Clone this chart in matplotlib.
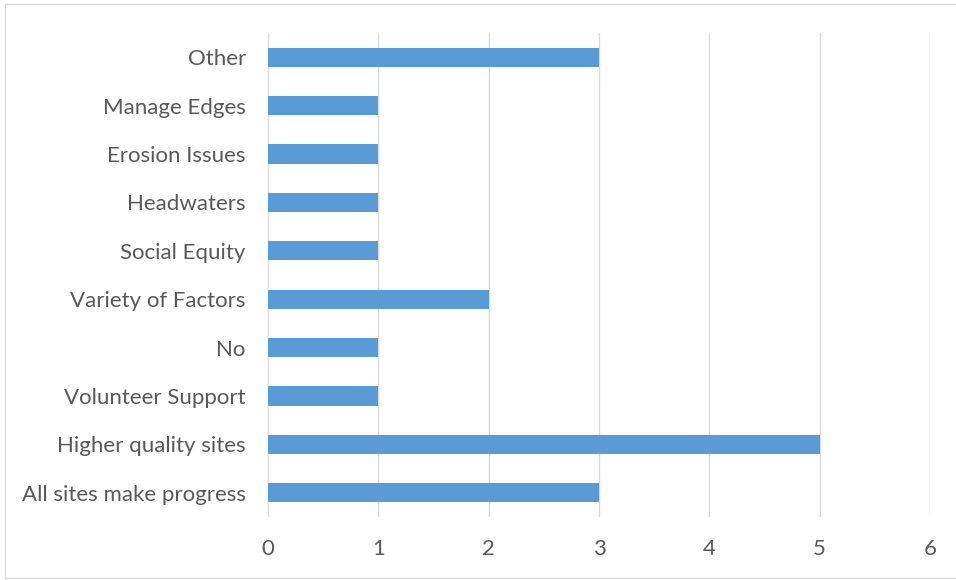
import matplotlib
matplotlib.use("Agg")
import matplotlib.pyplot as plt
from matplotlib.patches import Rectangle

categories = ["All sites make progress", "Higher quality sites", "Volunteer Support", "No",
              "Variety of Factors", "Social Equity", "Headwaters", "Erosion Issues",
              "Manage Edges", "Other"]
values = [3, 5, 1, 1, 2, 1, 1, 1, 1, 3]
x_ticks = [0, 1, 2, 3, 4, 5, 6]

text_color = "#595959"
plt.rcParams['font.family'] = ['Lato', 'DejaVu Sans']

fig = plt.figure(figsize=(9.56, 5.8), dpi=100)
fig.patches.append(Rectangle((5/956, 2/580), 960/956, 574/580, transform=fig.transFigure,
                             fill=False, edgecolor="#D9D9D9", linewidth=1.0))
ax = fig.add_axes([268/956, 63/580, 662/956, 484/580])

ypos = list(range(len(categories)))
ax.barh(ypos, values, height=0.4, color="#5B9BD5", zorder=3)
ax.set_xlim(0, 6)
ax.set_ylim(-0.5, len(categories) - 0.5)
ax.set_xticks(x_ticks)
ax.set_xticklabels([str(t) for t in x_ticks])
ax.set_yticks(ypos)
ax.set_yticklabels(categories)
ax.grid(axis="x", color="#D9D9D9", linewidth=1.0, zorder=0)
for s in ax.spines.values():
    s.set_visible(False)
ax.tick_params(axis="both", length=0, labelsize=16, colors=text_color)
ax.tick_params(axis="x", pad=16)
ax.tick_params(axis="y", pad=16)

fig.savefig("out.png", dpi=100)
